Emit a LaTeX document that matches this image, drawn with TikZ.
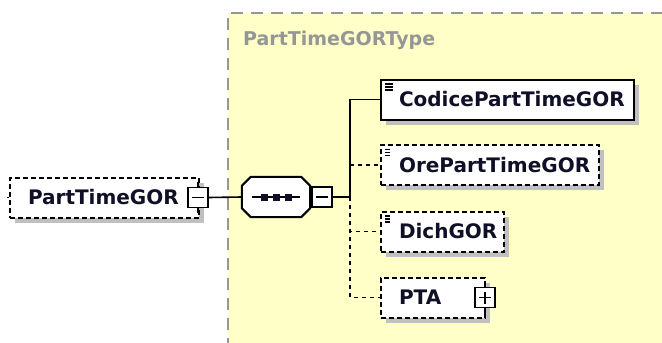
\documentclass[tikz,border=0pt]{standalone}
\usepackage{fontspec}
\setmainfont{DejaVu Sans}
\usetikzlibrary{shadows}
\definecolor{typebg}{RGB}{255,255,200}
\definecolor{typeline}{RGB}{150,150,150}
\definecolor{shade}{RGB}{192,192,192}
\definecolor{namecol}{RGB}{15,15,40}
\tikzset{
  elem/.style={draw, fill=white, line width=2pt, minimum height=40pt,
    inner xsep=18pt, inner ysep=0pt, align=left, anchor=west, text=namecol,
    font=\bfseries\fontsize{20}{23}\selectfont,
    general shadow={fill=shade, shadow xshift=5pt, shadow yshift=-5pt}},
  optelem/.style={elem, dash pattern=on 5pt off 3pt},
  docicon/.style={path picture={
      \foreach \d in {4.5,7.5,10.5}
        \draw[line width=1.2pt] ([shift={(4pt,-\d pt)}]path picture bounding box.north west) -- ++(8pt,0pt);}},
  signbox/.style={draw, fill=white, line width=1.6pt, minimum size=20pt, inner sep=0pt},
  minusbox/.style={signbox, path picture={
      \draw[line width=1.6pt] ([xshift=-6pt]path picture bounding box.center) -- ++(12pt,0pt);}},
  plusbox/.style={signbox, path picture={
      \draw[line width=1.6pt] ([xshift=-6pt]path picture bounding box.center) -- ++(12pt,0pt);
      \draw[line width=1.6pt] ([yshift=-6pt]path picture bounding box.center) -- ++(0pt,12pt);}},
  seqbox/.style={minimum width=68pt, minimum height=40pt, inner sep=0pt},
  link/.style={line width=1.6pt},
  optlink/.style={link, dash pattern=on 4pt off 4pt},
}
\begin{document}
\begin{tikzpicture}[x=1pt, y=-1pt]
  \useasboundingbox (0,0) rectangle (662,343);
  % complex type area
  \fill[typebg] (228,13) rectangle (670,350);
  \draw[typeline, line width=1.6pt, dash pattern=on 12pt off 8pt] (228,350) -- (228,13) -- (670,13);
  \node[anchor=base west, inner sep=0pt, text=typeline, font=\bfseries\fontsize{19}{22}\selectfont]
    (typename) at (243,45) {PartTimeGORType};

  % root element
  \node[optelem, text width=153pt] (part) at (9,197.5) {PartTimeGOR};
  \draw[link] (part.west) -- ++(-2,0);
  \node[minusbox] (partsign) at ([xshift=-2pt]part.east) {};
  \draw[link] (partsign.north) -- ++(0,-5);
  \draw[link] (partsign.south) -- ++(0,5);

  % sequence
  \node[seqbox] (seq) at (276,197) {};
  \fill[shade, shift={(5,5)}]
    ([xshift=9pt]seq.north west) -- ([xshift=-9pt]seq.north east) -- ([yshift=-9pt]seq.north east)
    -- ([yshift=9pt]seq.south east) -- ([xshift=-9pt]seq.south east) -- ([xshift=9pt]seq.south west)
    -- ([yshift=9pt]seq.south west) -- ([yshift=-9pt]seq.north west) -- cycle;
  \draw[line width=2pt, fill=white]
    ([xshift=9pt]seq.north west) -- ([xshift=-9pt]seq.north east) -- ([yshift=-9pt]seq.north east)
    -- ([yshift=9pt]seq.south east) -- ([xshift=-9pt]seq.south east) -- ([xshift=9pt]seq.south west)
    -- ([yshift=9pt]seq.south west) -- ([yshift=-9pt]seq.north west) -- cycle;
  \draw[link] ([xshift=10pt]seq.west) -- ([xshift=-10pt]seq.east);
  \foreach \dx in {-12,0,12}
    \fill[namecol] ([xshift=\dx pt]seq.center) +(-3.5,-3.5) rectangle +(3.5,3.5);
  \node[minusbox, anchor=west] (seqsign) at ([xshift=1pt]seq.east) {};
  \draw[link] (partsign.east) -- (seq.west);
  \coordinate (bus) at (350,197);
  \draw[link] (seqsign.east) -- (bus);

  % children
  \node[elem, docicon, text width=217pt] (codice) at (380,99.5) {CodicePartTimeGOR};
  \node[optelem, docicon, text width=182pt] (ore) at (380,165) {OrePartTimeGOR};
  \node[optelem, docicon, text width=87pt] (dich) at (380,231.5) {DichGOR};
  \node[optelem, text width=68pt] (pta) at (380,297.5) {PTA};
  \node[plusbox] (ptasign) at ([xshift=-1pt]pta.east) {};
  \draw[link] (ptasign.north) -- ++(0,-5);
  \draw[link] (ptasign.south) -- ++(0,5);

  \draw[link] (bus) |- (codice.west);
  \draw[optlink] (bus) |- (ore.west);
  \draw[optlink] (bus) |- (dich.west);
  \draw[optlink] (bus) |- (pta.west);
\end{tikzpicture}
\end{document}
